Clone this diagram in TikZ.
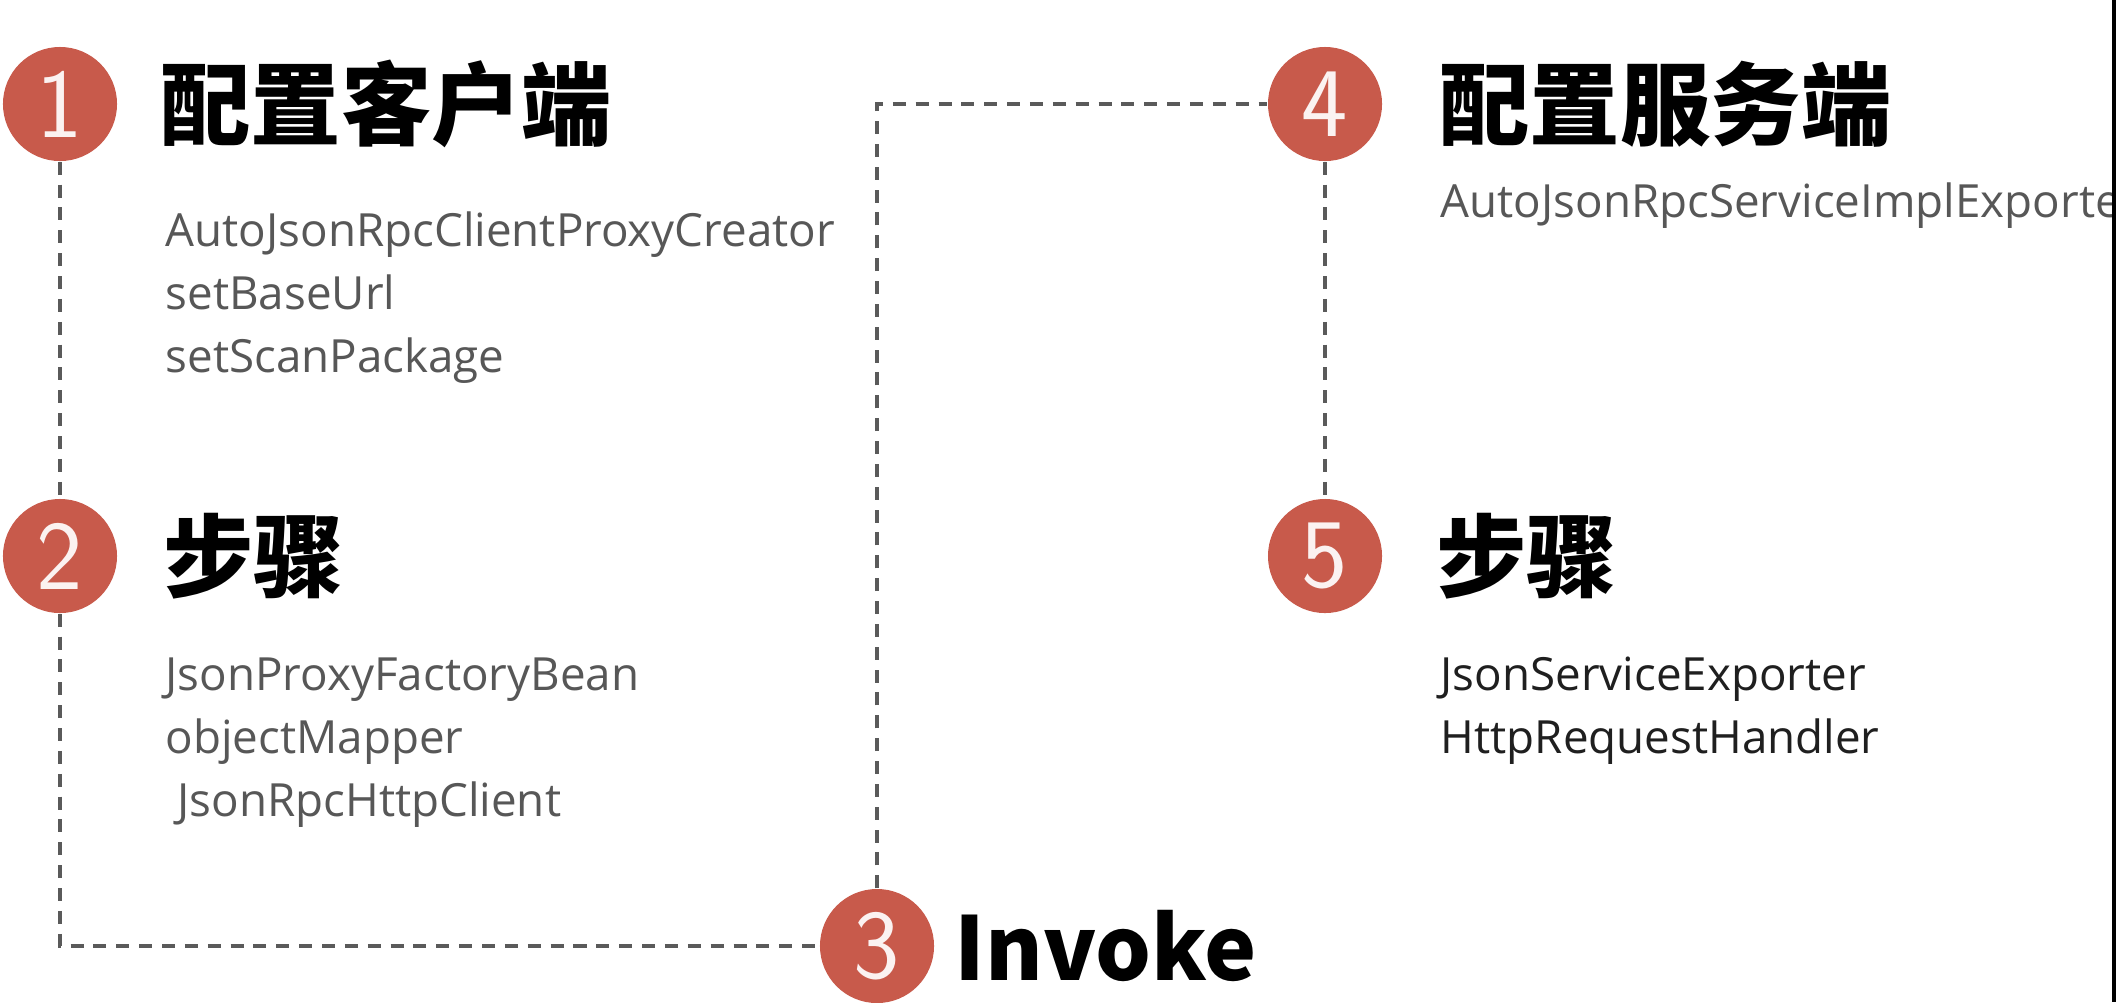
\documentclass[tikz,border=0pt]{standalone}
\usepackage{fontspec}
\usepackage{tikz}
\usetikzlibrary{positioning}
\setmainfont{Open Sans}
\newfontfamily\cjk{Noto Sans CJK SC}
\definecolor{stepred}{HTML}{C85A4B}
\definecolor{listgray}{HTML}{575757}
\definecolor{linkgray}{HTML}{5A5A5A}
\newcommand{\listSize}[0]{\fontsize{13}{17.8}\selectfont}

\begin{document}
\begin{tikzpicture}[x=0.01cm, y=-0.01cm]
  \tikzset{every node/.style={inner sep=0pt},
    stepdot/.style={circle, fill=stepred, minimum size=1.14cm, text=white!92!stepred,
      font=\sffamily\fontsize{28}{28}\selectfont},
    heading/.style={font=\cjk\bfseries\fontsize{25.7}{26}\selectfont},
    codelist/.style={align=left, anchor=base west, text=listgray, font=\listSize},
    link/.style={draw=linkgray, line width=0.9pt, dash pattern=on 3.7pt off 2.8pt}}
  \useasboundingbox (0,0) rectangle (2116,1002);
  \clip (0,0) rectangle (2116,1002);
  \fill[white] (0,0) rectangle (2116,1002);
  \node[stepdot] (step-1) at (60,104) {1};
  \node[stepdot] (step-2) at (60,556) {2};
  \node[stepdot] (step-3) at (877,946) {3};
  \node[stepdot] (step-4) at (1325,104) {4};
  \node[stepdot] (step-5) at (1325,556) {5};
  \node[heading, right=0.42cm of step-1] (title-1) {配置客户端};
  \node[heading, right=0.45cm of step-2] (title-2) {步骤};
  \node[heading, right=0.19cm of step-3, font=\cjk\bfseries\fontsize{25}{25}\selectfont] (title-3) {Invoke};
  \node[heading, right=0.56cm of step-4] (title-4) {配置服务端};
  \node[heading, right=0.53cm of step-5] (title-5) {步骤};
  \node[codelist] (list-1) at (165,372) {AutoJsonRpcClientProxyCreator\\setBaseUrl\\setScanPackage};
  \node[codelist] (list-2) at (165,816) {JsonProxyFactoryBean\\objectMapper\\\ JsonRpcHttpClient};
  \node[codelist] (list-4) at (1440,217) {AutoJsonRpcServiceImplExporter};
  \node[codelist, text=black!88] (list-5) at (1440,753) {JsonServiceExporter\\HttpRequestHandler};
  \draw[link] (step-1) -- (step-2);
  \draw[link] (step-2) |- (step-3);
  \draw[link] (step-3) |- (step-4);
  \draw[link] (step-4) -- (step-5);
  \fill[black] (2112,0) rectangle (2116,1002);
\end{tikzpicture}
\end{document}
